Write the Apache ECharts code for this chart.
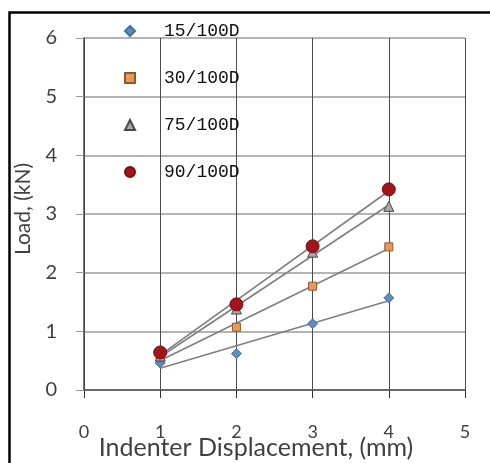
<!DOCTYPE html>
<html>
<head>
<meta charset="utf-8">
<script src="https://cdn.jsdelivr.net/npm/echarts@6/dist/echarts.min.js"></script>
<style>
  html, body { margin: 0; padding: 0; background: #fff; }
  #main { width: 490px; height: 463px; }
</style>
</head>
<body>
<div id="main"></div>
<script>
// indenter displacement (mm)
var disp = [1, 2, 3, 4];
// load (kN) per hardness ratio
var names = ['15/100D', '30/100D', '75/100D', '90/100D'];
var load15 = [0.46, 0.62, 1.13, 1.57];
var load30 = [0.55, 1.07, 1.77, 2.44];
var load75 = [0.58, 1.38, 2.35, 3.13];
var load90 = [0.64, 1.46, 2.45, 3.42];
var xTicks = [0, 1, 2, 3, 4, 5];
var yTicks = [0, 1, 2, 3, 4, 5, 6];

var loads = [load15, load30, load75, load90];
var symbols = ['diamond', 'rect', 'triangle', 'circle'];
var sizes = [10, 8, 10, 13];
var fills = ['#5f8cc0', '#e89a5a', '#a8a8a8', '#a3141a'];
var borders = ['#46709c', '#8a5a2c', '#4a4a4a', '#7a0e12'];

// least squares trend line, like the spreadsheet trendline
function fit(xs, ys) {
    var n = xs.length, mx = 0, my = 0;
    xs.forEach(function (v, i) { mx += v; my += ys[i]; });
    mx /= n; my /= n;
    var sxy = 0, sxx = 0;
    xs.forEach(function (v, i) { sxy += (v - mx) * (ys[i] - my); sxx += (v - mx) * (v - mx); });
    var b = sxy / sxx, a = my - b * mx;
    var x0 = xs[0], x1 = xs[n - 1];
    return [[x0, a + b * x0], [x1, a + b * x1]];
}

var series = [];
loads.forEach(function (ys, k) {
    series.push({
        name: names[k] + ' trend',
        type: 'line',
        data: fit(disp, ys),
        symbol: 'none',
        lineStyle: { color: '#7f7f7f', width: 1.6 },
        silent: true,
        z: 2
    });
});
loads.forEach(function (ys, k) {
    series.push({
        name: names[k],
        type: 'scatter',
        data: disp.map(function (x, i) { return [x, ys[i]]; }),
        symbol: symbols[k],
        symbolSize: sizes[k],
        itemStyle: { color: fills[k], borderColor: borders[k], borderWidth: 1, opacity: 1 },
        z: 3 + k
    });
});

var myChart = echarts.init(document.getElementById('main'));
var option = {
    backgroundColor: '#fff',
    animation: false,
    textStyle: { fontFamily: 'Lato' },
    grid: { left: 84, right: 25, top: 38, bottom: 73, containLabel: false, outerBoundsMode: 'none' },
    legend: {
        data: names,
        orient: 'vertical',
        left: 119,
        top: 16,
        itemWidth: 10,
        itemHeight: 10,
        itemGap: 27,
        textStyle: {
            fontFamily: 'Liberation Mono',
            fontSize: 18,
            color: '#111',
            lineHeight: 20,
            padding: [0, 0, 0, 24]
        }
    },
    xAxis: {
        type: 'value',
        min: 0,
        max: 5,
        interval: 1,
        name: 'Indenter Displacement, (mm)',
        nameLocation: 'middle',
        nameGap: 45,
        nameMoveOverlap: false,
        nameTextStyle: { fontSize: 25, color: '#404040', padding: [0, 37, 0, 0] },
        axisLine: { show: true, lineStyle: { color: '#6a6a6a', width: 2 } },
        axisTick: { show: true, inside: false, length: 8, lineStyle: { color: '#333', width: 1 } },
        axisLabel: { fontSize: 18, color: '#404040', margin: 33,
            formatter: function (v) { return xTicks.indexOf(v) >= 0 ? String(v) : ''; } },
        splitLine: { show: true, lineStyle: { color: '#4a4a4a', width: 1 } }
    },
    yAxis: {
        type: 'value',
        min: 0,
        max: 6,
        interval: 1,
        name: 'Load, (kN)',
        nameLocation: 'middle',
        nameGap: 50,
        nameMoveOverlap: false,
        nameTextStyle: { fontSize: 21, color: '#404040', padding: [0, 0, 0, 10] },
        axisLine: { show: true, lineStyle: { color: '#444', width: 1.5 } },
        axisTick: { show: true, inside: false, length: 8, lineStyle: { color: '#999', width: 1 } },
        axisLabel: { fontSize: 20, color: '#404040', margin: 27,
            formatter: function (v) { return yTicks.indexOf(v) >= 0 ? String(v) : ''; } },
        splitLine: { show: true, lineStyle: { color: '#b4b4b4', width: 2 } }
    },
    graphic: [{
        type: 'rect',
        left: 7,
        top: 10,
        shape: { width: 600, height: 600 },
        style: { fill: 'none', stroke: '#000', lineWidth: 2.5 },
        silent: true
    }],
    series: series
};
myChart.setOption(option);
</script>
</body>
</html>
